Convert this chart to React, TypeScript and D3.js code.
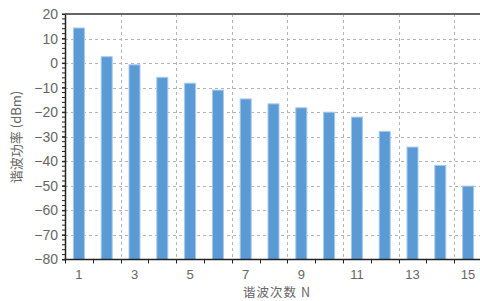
import React, { useEffect, useRef } from 'react';
import * as d3 from 'd3';

// harmonic order and measured power (dBm)
const harmonics = [1, 2, 3, 4, 5, 6, 7, 8, 9, 10, 11, 12, 13, 14, 15];
const powerDbm = [14.3, 2.6, -0.7, -5.8, -8.2, -11.0, -14.6, -16.6, -18.2, -20.0, -22.0, -27.8, -34.2, -41.7, -50.1];
const yTicks = [20, 10, 0, -10, -20, -30, -40, -50, -60, -70, -80];
const xLabels = [1, 3, 5, 7, 9, 11, 13, 15];

const W = 480;
const H = 301;

export default function App() {
  const ref = useRef<SVGSVGElement>(null);

  useEffect(() => {
    const svg = d3.select(ref.current);
    svg.selectAll('*').remove();

    const left = 65, right = 482, top = 14, bottom = 259.5;

    const x = d3.scaleBand<number>().domain(harmonics).range([left, right]).padding(0);
    const y = d3.scaleLinear().domain([-80, 20]).range([bottom, top]);
    const bw = x.bandwidth();
    const barW = 11;

    // horizontal grid
    svg.append('g')
      .selectAll('line')
      .data(yTicks.filter(d => d !== 20 && d !== -80))
      .enter().append('line')
      .attr('x1', left).attr('x2', W)
      .attr('y1', d => Math.round(y(d)) + 0.5).attr('y2', d => Math.round(y(d)) + 0.5)
      .attr('stroke', '#b4b4b4').attr('stroke-dasharray', '3,3');

    // vertical grid every two bands
    const vGrid = [2, 4, 6, 8, 10, 12, 14].map(i => left + i * bw);
    svg.append('g')
      .selectAll('line')
      .data(vGrid)
      .enter().append('line')
      .attr('x1', d => Math.round(d) + 0.5).attr('x2', d => Math.round(d) + 0.5)
      .attr('y1', top).attr('y2', bottom)
      .attr('stroke', '#b4b4b4').attr('stroke-dasharray', '3,3');

    // bars
    svg.append('g')
      .selectAll('rect')
      .data(harmonics)
      .enter().append('rect')
      .attr('x', d => (x(d) as number) + (bw - barW) / 2)
      .attr('y', (d, i) => y(powerDbm[i]))
      .attr('width', barW)
      .attr('height', (d, i) => bottom - y(powerDbm[i]))
      .attr('fill', '#5b9bd5')
      .attr('stroke', '#a8c9ec')
      .attr('stroke-width', 1);

    // top border
    svg.append('line')
      .attr('x1', left).attr('x2', W)
      .attr('y1', top).attr('y2', top)
      .attr('stroke', '#666').attr('stroke-width', 2);

    // y axis
    const yAxis = svg.append('g').attr('transform', `translate(${left},0)`)
      .call(d3.axisLeft(y).tickValues(yTicks).tickSize(3).tickSizeOuter(0)
        .tickFormat(d => (d as number) < 0 ? `\u2212${Math.abs(d as number)}` : `${d}`));
    yAxis.select('.domain').attr('stroke', '#222').attr('stroke-width', 1.5);
    yAxis.selectAll('.tick line').attr('stroke', '#222');
    yAxis.selectAll('text')
      .attr('x', -7)
      .attr('fill', '#666')
      .style('font-family', '"Liberation Sans", Arial, sans-serif')
      .style('font-size', '14px');

    // minor ticks on y
    svg.append('g')
      .selectAll('line')
      .data(d3.range(-80, 20.01, 2))
      .enter().append('line')
      .attr('x1', left - 3).attr('x2', left)
      .attr('y1', d => y(d)).attr('y2', d => y(d))
      .attr('stroke', '#222');

    // x axis
    svg.append('line')
      .attr('x1', left - 1).attr('x2', W)
      .attr('y1', bottom).attr('y2', bottom)
      .attr('stroke', '#222').attr('stroke-width', 1.5);
    svg.append('g')
      .selectAll('line')
      .data(d3.range(0, 15).map(i => left + i * bw))
      .enter().append('line')
      .attr('x1', d => Math.round(d) + 0.5).attr('x2', d => Math.round(d) + 0.5)
      .attr('y1', bottom).attr('y2', bottom + 4)
      .attr('stroke', '#222');
    svg.append('g')
      .selectAll('text')
      .data(xLabels)
      .enter().append('text')
      .attr('x', d => (x(d) as number) + bw / 2)
      .attr('y', 279)
      .attr('text-anchor', 'middle')
      .attr('fill', '#666')
      .style('font-family', '"Liberation Sans", Arial, sans-serif')
      .style('font-size', '13px')
      .text(d => d);

    // axis titles
    svg.append('text')
      .attr('x', 277).attr('y', 297)
      .attr('text-anchor', 'middle')
      .attr('fill', '#666')
      .style('font-family', '"Noto Sans CJK SC", sans-serif')
      .style('font-size', '12.5px')
      .style('letter-spacing', '1px')
      .text('谐波次数 N');

    svg.append('text')
      .attr('transform', `translate(21,137) rotate(-90)`)
      .attr('text-anchor', 'middle')
      .attr('fill', '#666')
      .style('font-family', '"Noto Sans CJK SC", sans-serif')
      .style('font-size', '13px')
      .text('谐波功率 (dBm)');
  }, []);

  return (
    <svg ref={ref} width={W} height={H}
      style={{ position: 'absolute', left: 0, top: 0, background: '#fff' }} />
  );
}
